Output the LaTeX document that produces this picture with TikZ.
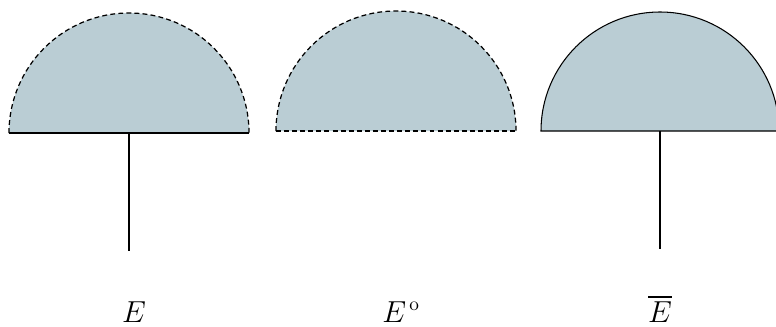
\documentclass[tikz,border=0pt]{standalone}
\usepackage{amsmath}
\usepackage{xcolor}
\usetikzlibrary{positioning}
\definecolor{setfill}{RGB}{186,205,212}
\tikzset{
  bd/.style={line width=0.6pt},
  dsh/.style={line width=0.7pt, dash pattern=on 2.8pt off 1.8pt},
  lbl/.style={anchor=base, font=\fontsize{16}{18}\selectfont}
}

\begin{document}
\begin{tikzpicture}[x=0.02cm,y=0.02cm]
  \useasboundingbox (0,0) rectangle (776,-326);
  % E : dashed boundary, solid diameter
  \coordinate (c1) at (129,-133);
  \coordinate (b1) at (129,-251);
  \fill[setfill] (9,-133) arc (180:0:120) -- cycle;
  \draw[dsh] (9,-133) arc (180:0:120);
  \draw[bd] (9,-133) -- (249,-133);
  \draw[bd] (c1) -- (b1);
  \node[lbl] (e1) at (134,-322) {$E$};
  % interior : all dashed
  \coordinate (c2) at (396,-131);
  \fill[setfill] (276,-131) arc (180:0:120) -- cycle;
  \draw[dsh] (276,-131) arc (180:0:120);
  \draw[dsh] (276,-131) -- (516,-131);
  \node[lbl] (e2) at (401,-322) {$E^{\,\mathrm{o}}$};
  % closure : all solid
  \coordinate (c3) at (660,-131);
  \coordinate (b3) at (660,-249);
  \fill[setfill] (541,-131) arc (180:0:119) -- cycle;
  \draw[bd] (541,-131) arc (180:0:119) -- cycle;
  \draw[bd] (c3) -- (b3);
  \node[lbl] (e3) at (660,-322) {$\overline{E}$};
\end{tikzpicture}
\end{document}
